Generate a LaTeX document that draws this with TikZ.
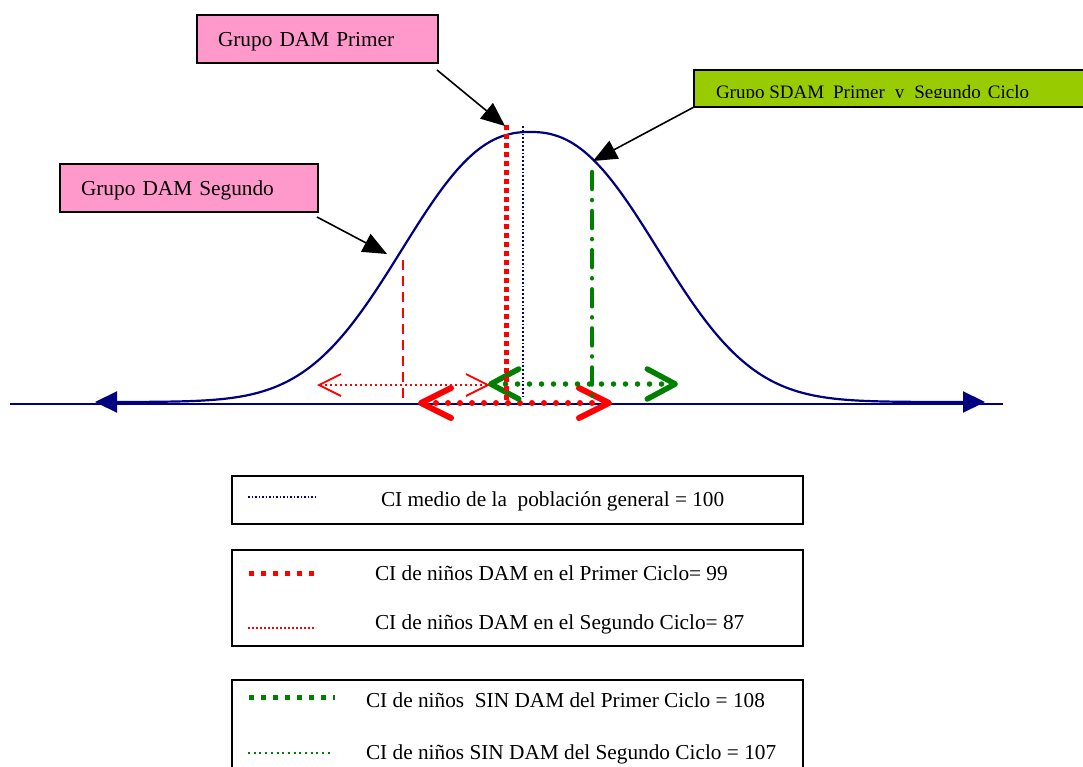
\documentclass[tikz,border=0pt]{standalone}
\usepackage{fontspec}
\setmainfont{Liberation Serif}
\usetikzlibrary{arrows.meta}
\definecolor{navyline}{HTML}{000080}
\definecolor{pinkfill}{HTML}{FF99CC}
\definecolor{limefill}{HTML}{99CC00}
\definecolor{darkgreen}{HTML}{008000}
\definecolor{redline}{HTML}{FF0000}
\begin{document}
\begin{tikzpicture}[x=1pt,y=-1pt,
  every node/.style={inner sep=0pt, outer sep=0pt},
  bigfont/.style={font=\fontsize{21.3}{26}\selectfont},
  lbl/.style={bigfont, anchor=base west},
  tagbox/.style={draw=black, line width=2.5pt, fill=pinkfill, anchor=north west,
    minimum height=48pt, inner xsep=21pt, align=left, bigfont,
    text height=18pt, text depth=4pt},
  limebox/.style={draw=black, line width=2.5pt, fill=limefill, anchor=north west,
    minimum height=37pt, minimum width=420pt},
  legendbox/.style={draw=black, line width=2.5pt, anchor=north west, minimum width=571pt},
  callout/.style={draw=black, line width=1.6pt, -{Triangle[length=24pt,width=20pt]}},
  bell/.style={draw=navyline, line width=2.2pt,
    {Triangle[length=22pt,width=21pt]}-{Triangle[length=22pt,width=21pt]}},
  axisline/.style={draw=navyline, line width=2pt},
  meanline/.style={draw=navyline, line width=1.8pt, dash pattern=on 1.8pt off 2pt},
  damfirst/.style={draw=redline, line width=5pt, dash pattern=on 5pt off 4pt},
  damsecond/.style={draw=redline, line width=2pt, dash pattern=on 10pt off 6pt},
  sdamline/.style={draw=darkgreen, line width=4.5pt, line cap=round,
    dash pattern=on 17pt off 11pt on 0.1pt off 11pt},
  thinbarb/.style={draw=redline, line width=1.8pt, dash pattern=on 2pt off 3pt,
    {Straight Barb[length=22pt,width=22pt]}-{Straight Barb[length=22pt,width=22pt]}},
  redbarb/.style={draw=redline, line width=6pt, line cap=round, dash pattern=on 0pt off 12pt,
    {Straight Barb[length=30pt,width=30pt,round]}-{Straight Barb[length=30pt,width=30pt,round]}},
  greenbarb/.style={draw=darkgreen, line width=5.5pt, line cap=round, dash pattern=on 0pt off 12pt,
    {Straight Barb[length=28pt,width=30pt,round]}-{Straight Barb[length=28pt,width=30pt,round]}}
]
\clip (0,0) rectangle (1083,766);
\fill[white] (0,0) rectangle (1083,766);

% labels of the three groups
\node[tagbox, text width=199pt] (tagA) at (197,15) {Grupo DAM Primer};
\node[tagbox, text width=216pt] (tagB) at (60,164) {Grupo DAM Segundo};
\node[limebox] (tagC) at (694,70) {};
\begin{scope}
  \clip (694,71) rectangle (1083,97.5);
  \node[anchor=base west, font=\fontsize{19}{24}\selectfont] (tagCtext) at (716,98.5)
    {Grupo SDAM\hspace{9pt}Primer\hspace{10pt}y\hspace{10pt}Segundo\hspace{7pt}Ciclo};
\end{scope}

% horizontal axis
\coordinate (axL) at (10,404);
\coordinate (axR) at (1003,404);
\draw[axisline] (axL) -- (axR);

% bell-shaped curve, slightly flattened at the top
\draw[bell] plot[domain=95:985, samples=220, smooth]
  (\x, {402 - 270*exp(-pow((abs(\x-530)+0.01)/162.4, 2.355))});

% vertical markers
\coordinate (meanTop) at (523,126);  \coordinate (meanBot) at (523,397);
\coordinate (d1Top) at (506,125);    \coordinate (d1Bot) at (506,402);
\coordinate (d2Top) at (403,260);    \coordinate (d2Bot) at (403,404);
\coordinate (s1Top) at (592,172);    \coordinate (s1Bot) at (592,403);
\draw[damsecond] (d2Top) -- (d2Bot);
\draw[meanline] (meanTop) -- (meanBot);

% horizontal ranges
\coordinate (r2L) at (317,385); \coordinate (r2R) at (490,385);
\coordinate (r1L) at (418,403); \coordinate (r1R) at (612,403);
\coordinate (g1L) at (488,384); \coordinate (g1R) at (678,384);
\draw[thinbarb] (r2L) -- (r2R);
\draw[redbarb] (r1L) -- (r1R);
\draw[greenbarb] (g1L) -- (g1R);
\draw[damfirst] (d1Top) -- (d1Bot);
\draw[sdamline] (s1Top) -- (s1Bot);

% callout arrows
\coordinate (aA) at (437,70);  \coordinate (hA) at (505,126);
\coordinate (aB) at (317,217); \coordinate (hB) at (387,254);
\coordinate (hC) at (593,161);
\draw[callout] (aA) -- (hA);
\draw[callout] (aB) -- (hB);
\draw[callout] (tagC.south west) -- (hC);

% legend
\node[legendbox, minimum height=48pt] (leg1) at (232,476) {};
\node[legendbox, minimum height=96pt] (leg2) at (232,550) {};
\node[legendbox, minimum height=120pt] (leg3) at (232,680) {};

\coordinate (k1a) at (248,497); \coordinate (k1b) at (316,497);
\draw[draw=navyline, line width=1.5pt, dash pattern=on 1.5pt off 2pt] (k1a) -- (k1b);
\node[lbl] (t1) at (381,506) {CI medio de la\ \ población general = 100};

\coordinate (k2a) at (249,573); \coordinate (k2b) at (314,573);
\draw[draw=redline, line width=5pt, dash pattern=on 5pt off 7pt] (k2a) -- (k2b);
\node[lbl] (t2) at (375,580) {CI de niños DAM en el Primer Ciclo= 99};

\coordinate (k3a) at (248,628); \coordinate (k3b) at (316,628);
\draw[draw=redline, line width=1.5pt, dash pattern=on 2pt off 2pt] (k3a) -- (k3b);
\node[lbl] (t3) at (375,629) {CI de niños DAM en el Segundo Ciclo= 87};

\coordinate (k4a) at (249,697); \coordinate (k4b) at (335,697);
\draw[draw=darkgreen, line width=5pt, dash pattern=on 5pt off 7pt] (k4a) -- (k4b);
\node[lbl] (t4) at (366,707) {CI de niños\ \ SIN DAM del Primer Ciclo = 108};

\coordinate (k5a) at (248,753); \coordinate (k5b) at (331,753);
\draw[draw=darkgreen, line width=2pt, dash pattern=on 2pt off 3.7pt] (k5a) -- (k5b);
\node[lbl] (t5) at (366,759) {CI de niños SIN DAM del Segundo Ciclo = 107};
\end{tikzpicture}
\end{document}
